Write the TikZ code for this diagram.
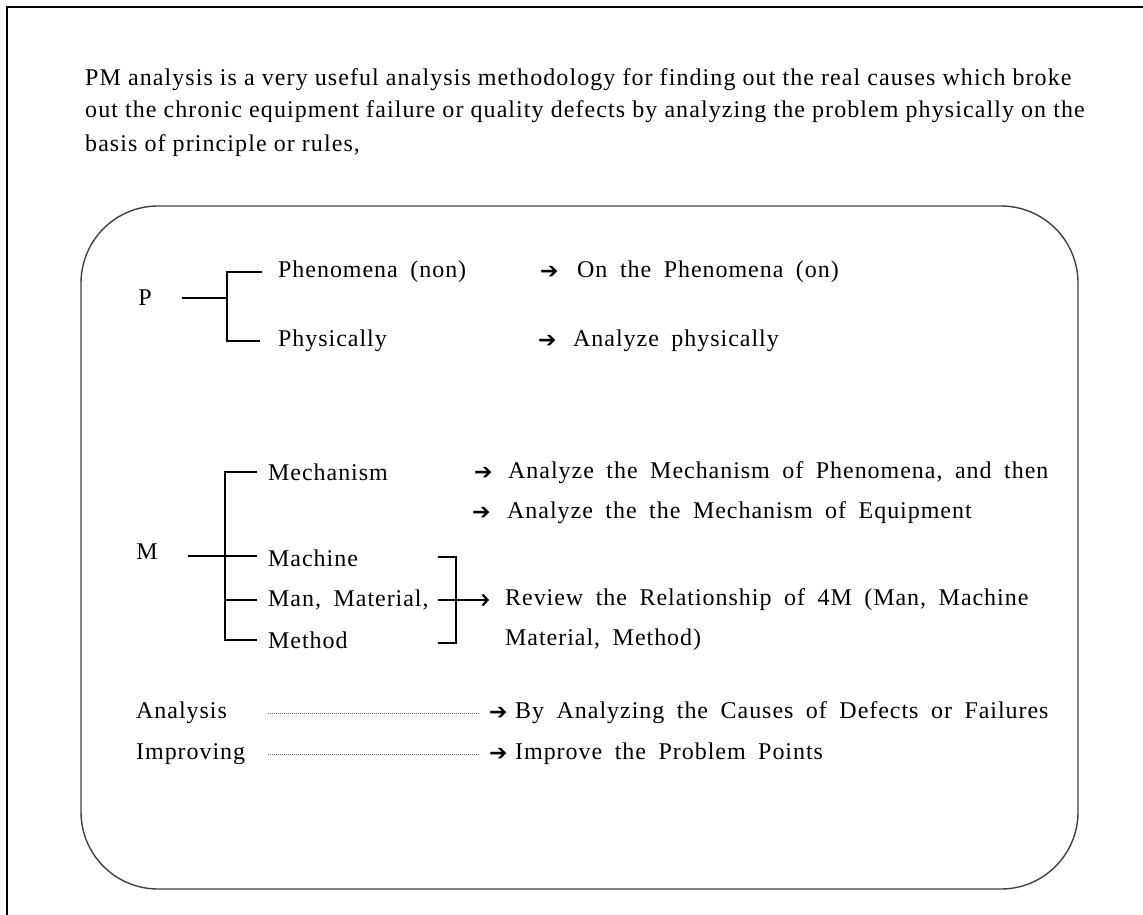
\documentclass[tikz,border=0pt]{standalone}
\usepackage{fontspec}
\setmainfont{Liberation Serif}[LetterSpace=4.5]
\newfontfamily\boxfont{Liberation Serif}[WordSpace=1.8, LetterSpace=4]
\newfontfamily\dingfont{DejaVu Sans}
\usetikzlibrary{arrows.meta}

\begin{document}
\begin{tikzpicture}
  [x=1pt, y=-1pt,
   every node/.style={inner sep=0pt, font=\boxfont\fontsize{24}{33}\selectfont},
   txt/.style={anchor=west},
   sym/.style={anchor=west, font=\dingfont\fontsize{22}{22}\selectfont},
   tree/.style={line width=1.4pt},
   dots/.style={line width=0.8pt, black!60, dash pattern=on 0.8pt off 1.2pt},
   box/.style={line width=1.4pt, draw=black!75, rounded corners=77pt},
   arr/.style={line width=1.4pt, -{Straight Barb[length=5pt, width=11pt, line width=2.2pt]}}
  ]
  \useasboundingbox (0,0) rectangle (1143,915);
  \draw[line width=2pt] (7,915) -- (7,7) -- (1143,7);

  % introduction
  \node[anchor=base west, align=left, font=\rmfamily\fontsize{24}{33}\selectfont] (intro) at (85,151)
    {PM analysis is a very useful analysis methodology for finding out the real causes which broke\\
     out the chronic equipment failure or quality defects by analyzing the problem physically on the\\
     basis of principle or rules,};

  \draw[box] (81,206) rectangle (1078,889);

  % P
  \node (P) at (145,298) {P};
  \node[txt] (Phen) at (278,272) {Phenomena (non)};
  \node[txt] (Phys) at (278,341) {Physically};
  \node[sym] (a1)   at (540,272) {➔};
  \node[sym] (a2)   at (538,341) {➔};
  \node[txt] (On)   at (577,272) {On the Phenomena (on)};
  \node[txt] (AnP)  at (573,341) {Analyze physically};
  \coordinate (Pj) at (227,298);

  \draw[tree] ([xshift=30pt]P.east |- Pj) -- (Pj);
  \draw[tree] ([xshift=-16pt]Phen.west) -| (Pj) |- ([xshift=-18pt]Phys.west);

  % M
  \node (M) at (147,552) {M};
  \node[txt] (Mech) at (268,472) {Mechanism};
  \node[txt] (Mach) at (268,558) {Machine};
  \node[txt] (Man)  at (268,600) {Man, Material,};
  \node[txt] (Meth) at (268,640) {Method};
  \node[sym] (a3)   at (474,473) {➔};
  \node[sym] (a4)   at (472,513) {➔};
  \node[txt] (AnM)  at (508,473) {Analyze the Mechanism of Phenomena, and then};
  \node[txt] (AnE)  at (507,513) {Analyze the the Mechanism of Equipment};
  \node[txt] (Rev)  at (505,600) {Review the Relationship of 4M (Man, Machine};
  \node[txt] (Rev2) at (505,640) {Material, Method)};
  \coordinate (Mj) at (225,556);
  \coordinate (Bt) at (438,557);
  \coordinate (Bb) at (438,643);

  \draw[tree] ([xshift=30pt]M.east |- Mj) -- ([xshift=-11pt]Mach.west |- Mj);
  \draw[tree] ([xshift=-11pt]Mech.west) -| (Mj) |- ([xshift=-11pt]Meth.west);
  \draw[tree] ([xshift=-11pt]Man.west) -- (Mj |- Man);
  \draw[tree] (Bt) -- ++(18,0) |- (Bb);
  \draw[arr, shorten >=16pt] (Bt |- Man) -- (Rev.west);

  % analysis, improving
  \node[txt] (Ana) at (136,713) {Analysis};
  \node[txt] (Imp) at (136,754) {Improving};
  \node[sym] (a5)  at (489,713) {➔};
  \node[sym] (a6)  at (489,754) {➔};
  \node[txt] (By)  at (515,713) {By Analyzing the Causes of Defects or Failures};
  \node[txt] (Pro) at (515,754) {Improve the Problem Points};

  \draw[dots] (268,713) -- ([xshift=-9pt]a5.west);
  \draw[dots] (268,754) -- ([xshift=-9pt]a6.west);
\end{tikzpicture}
\end{document}
